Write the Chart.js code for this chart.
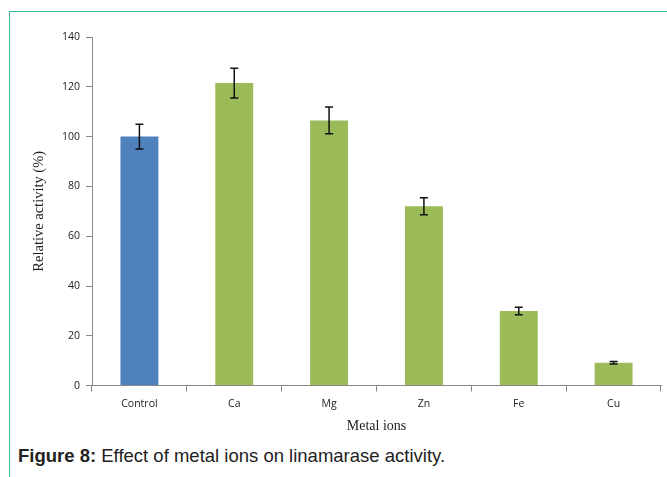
<!DOCTYPE html>
<html>
<head>
<meta charset="utf-8">
<script src="https://cdn.jsdelivr.net/npm/chart.js@4.4.0/dist/chart.umd.min.js"></script>
<style>
  body { margin: 0; background: #fff; }
  #frame { position: absolute; left: 9px; top: 11px; right: 0; bottom: 0;
           border-top: 1px solid #3dbb9e; border-left: 1px solid #3dbb9e; }
  #wrap { position: absolute; left: 0; top: 0; width: 667px; height: 437px; }
  #caption { position: absolute; left: 18px; top: 445px; font-family: "Liberation Sans", Arial, sans-serif;
             font-size: 18.5px; color: #222; }
</style>
</head>
<body>
<div id="frame"></div>
<div id="wrap"><canvas id="grafico"></canvas></div>
<div id="caption"><b>Figure 8:</b> Effect of metal ions on linamarase activity.</div>
<script>
// datos
var iones = ['Control', 'Ca', 'Mg', 'Zn', 'Fe', 'Cu'];
var actividad = [100, 121.5, 106.5, 72, 30, 9.2];
var error = [5, 6, 5.4, 3.4, 1.5, 0.5];
var colores = ['#4f81bd', '#9bbb59', '#9bbb59', '#9bbb59', '#9bbb59', '#9bbb59'];
var ticksY = [0, 20, 40, 60, 80, 100, 120, 140];

// barras de error
var barrasError = {
    id: 'barrasError',
    afterDatasetsDraw: function(chart){
        var ctx = chart.ctx;
        var meta = chart.getDatasetMeta(0);
        var y = chart.scales.y;
        ctx.save();
        ctx.strokeStyle = '#111';
        ctx.lineWidth = 1.5;
        for (var i in actividad) {
            var x = meta.data[i].x;
            var top = y.getPixelForValue(actividad[i] + error[i]);
            var bot = y.getPixelForValue(actividad[i] - error[i]);
            ctx.beginPath();
            ctx.moveTo(x, top); ctx.lineTo(x, bot);
            ctx.moveTo(x - 4, top); ctx.lineTo(x + 4, top);
            ctx.moveTo(x - 4, bot); ctx.lineTo(x + 4, bot);
            ctx.stroke();
        }
        ctx.restore();
    }
};

var datos = {
    labels: iones,
    datasets: [{
        data: actividad,
        backgroundColor: colores,
        categoryPercentage: 1,
        barPercentage: 0.4
    }]
};

new Chart(document.getElementById('grafico'), {
    type: 'bar',
    data: datos,
    plugins: [barrasError],
    options: {
        responsive: true,
        maintainAspectRatio: false,
        animation: false,
        layout: { padding: { top: 37, right: 6, left: 26, bottom: 0 } },
        plugins: { legend: { display: false }, tooltip: { enabled: false } },
        scales: {
            x: {
                grid: { drawOnChartArea: false, color: '#888', tickLength: 6, offset: true },
                border: { color: '#888' },
                ticks: { color: '#222', padding: 6, font: { family: 'Open Sans', size: 10.5 } },
                title: { display: true, text: 'Metal ions', color: '#222', padding: { top: 2, bottom: 2 },
                         font: { family: 'Liberation Serif', size: 14 } }
            },
            y: {
                min: 0, max: 140,
                afterBuildTicks: function(scale){ scale.ticks = ticksY.map(function(v){ return { value: v }; }); },
                afterFit: function(scale){ scale.width = 66; },
                grid: { drawOnChartArea: false, color: '#888', tickLength: 6 },
                border: { color: '#888' },
                ticks: { color: '#222', padding: 6, font: { family: 'Open Sans', size: 10.5 } },
                title: { display: true, text: 'Relative activity (%)', color: '#222',
                         font: { family: 'Liberation Serif', size: 14.5 } }
            }
        }
    }
});
</script>
</body>
</html>
